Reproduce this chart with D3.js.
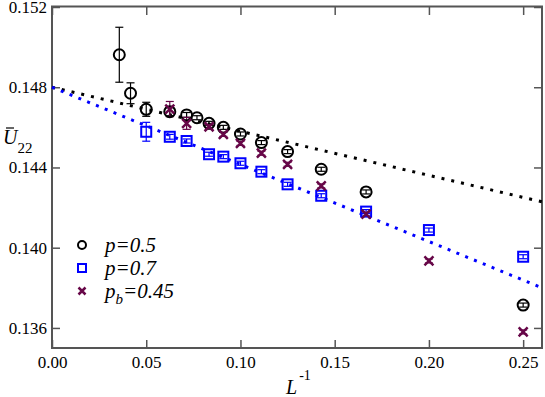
<!DOCTYPE html>
<html>
<head>
<meta charset="utf-8">
<script src="https://cdn.jsdelivr.net/npm/d3@7"></script>
<style>
  body { margin: 0; background: #fff; }
</style>
</head>
<body>
<svg id="chart"></svg>
<script>
// system sizes L, plotted as 1/L
const sizesP05 = [28, 24, 20, 16, 14, 13, 12, 11, 10, 9, 8, 7, 6, 4];
const valuesP05 = [0.14962, 0.1477, 0.1469, 0.14678, 0.14662, 0.14648, 0.1462, 0.146, 0.14567, 0.14524, 0.14479, 0.14391, 0.14278, 0.13714];
const errorsP05 = [0.00137, 0.00052, 0.00035, 0.0002, 0.00012, 0.0001, 0.0001, 0.0001, 0.0001, 0.0001, 0.0001, 0.0001, 0.0001, 0.0001];

const sizesP07 = [20, 16, 14, 12, 11, 10, 9, 8, 7, 6, 5, 4];
const valuesP07 = [0.14578, 0.14553, 0.14532, 0.14466, 0.14454, 0.14421, 0.14379, 0.14316, 0.14259, 0.1418, 0.14088, 0.13955];
const errorsP07 = [0.00047, 0.00012, 0.0001, 0.0001, 0.0001, 0.0001, 0.0001, 0.0001, 0.0001, 0.0001, 0.0001, 0.0001];

const sizesPb = [16, 14, 12, 11, 10, 9, 8, 7, 6, 5, 4];
const valuesPb = [0.14691, 0.1462, 0.14603, 0.14565, 0.1452, 0.14471, 0.14416, 0.14308, 0.14167, 0.13934, 0.1358];
const errorsPb = [0.00038, 0.0003, 0.0001, 0.0001, 0.0001, 0.0001, 0.0001, 0.0001, 0.0001, 0.0001, 0.0001];

// dotted fit lines
const fitX = [0, 0.26];
const fitP05 = [0.148, 0.14229];
const fitP07 = [0.148, 0.138];

const xTicks = [0, 0.05, 0.10, 0.15, 0.20, 0.25];
const yTicks = [0.136, 0.140, 0.144, 0.148, 0.152];

const width = 545;
const height = 397;
const margin = { top: 7, right: 3, bottom: 49, left: 52 };

const black = "#000000";
const blue = "#0000ff";
const maroon = "#670748";
const axisColor = "#555555";
const fontName = "Liberation Serif";

const svg = d3.select("#chart")
  .attr("width", width)
  .attr("height", height);

const x = d3.scaleLinear()
  .domain([0, 0.26])
  .range([margin.left, width - margin.right]);

const y = d3.scaleLinear()
  .domain([0.135, 0.152])
  .range([height - margin.bottom, margin.top]);

const makeSeries = (sizes, values, errors) =>
  sizes.map((L, i) => ({ x: 1 / L, y: values[i], e: errors[i] }));

const seriesP05 = makeSeries(sizesP05, valuesP05, errorsP05);
const seriesP07 = makeSeries(sizesP07, valuesP07, errorsP07);
const seriesPb = makeSeries(sizesPb, valuesPb, errorsPb);

const styleAxis = (g) => {
  g.attr("font-family", fontName).attr("font-size", 17);
  g.select(".domain").remove();
  g.selectAll("line").attr("stroke", axisColor).attr("stroke-width", 1.5);
  g.selectAll("text")
    .attr("fill", "#000")
    .style("font-family", fontName)
    .style("font-size", "17px");
};

// axes, ticks pointing inward on all four sides
svg.append("g")
  .attr("transform", `translate(0,${y.range()[0]})`)
  .call(d3.axisBottom(x).tickValues(xTicks).tickSize(-8).tickPadding(8).tickFormat(d3.format(".2f")))
  .call(styleAxis);

svg.append("g")
  .attr("transform", `translate(0,${y.range()[1]})`)
  .call(d3.axisTop(x).tickValues(xTicks).tickSize(-8).tickFormat(""))
  .call(styleAxis);

svg.append("g")
  .attr("transform", `translate(${x.range()[0]},0)`)
  .call(d3.axisLeft(y).tickValues(yTicks).tickSize(-8).tickPadding(5).tickFormat(d3.format(".3f")))
  .call(styleAxis);

svg.append("g")
  .attr("transform", `translate(${x.range()[1]},0)`)
  .call(d3.axisRight(y).tickValues(yTicks).tickSize(-8).tickFormat(""))
  .call(styleAxis);

// frame
svg.append("rect")
  .attr("x", x.range()[0])
  .attr("y", y.range()[1] - 0.5)
  .attr("width", x.range()[1] - x.range()[0])
  .attr("height", y.range()[0] - y.range()[1] + 0.5)
  .attr("fill", "none")
  .attr("stroke", axisColor)
  .attr("stroke-width", 2);

// fit lines
const plot = svg.append("g");

const fitLine = d3.line()
  .x((d) => x(d[0]))
  .y((d) => y(d[1]));

plot.append("path")
  .datum(fitX.map((v, i) => [v, fitP05[i]]))
  .attr("d", fitLine)
  .attr("fill", "none")
  .attr("stroke", black)
  .attr("stroke-width", 3)
  .attr("stroke-dasharray", "3 7");

plot.append("path")
  .datum(fitX.map((v, i) => [v, fitP07[i]]))
  .attr("d", fitLine)
  .attr("fill", "none")
  .attr("stroke", blue)
  .attr("stroke-width", 3)
  .attr("stroke-dasharray", "3 6.5");

// error bars
const drawErrors = (data, color) => {
  const g = plot.append("g").attr("stroke", color).attr("stroke-width", 1.2);
  data.forEach((d) => {
    const cx = x(d.x);
    const y1 = y(d.y + d.e);
    const y2 = y(d.y - d.e);
    g.append("line").attr("x1", cx).attr("x2", cx).attr("y1", y1).attr("y2", y2);
    g.append("line").attr("x1", cx - 4).attr("x2", cx + 4).attr("y1", y1).attr("y2", y1);
    g.append("line").attr("x1", cx - 4).attr("x2", cx + 4).attr("y1", y2).attr("y2", y2);
  });
};

drawErrors(seriesP05, black);
drawErrors(seriesP07, blue);
drawErrors(seriesPb, maroon);

// markers
const drawCircle = (g, cx, cy, r) =>
  g.append("circle").attr("cx", cx).attr("cy", cy).attr("r", r)
    .attr("fill", "none").attr("stroke", black).attr("stroke-width", 2);

const drawSquare = (g, cx, cy, s) =>
  g.append("rect").attr("x", cx - s / 2).attr("y", cy - s / 2)
    .attr("width", s).attr("height", s)
    .attr("fill", "none").attr("stroke", blue).attr("stroke-width", 2);

const drawCross = (g, cx, cy, s) =>
  g.append("path")
    .attr("d", `M${cx - s},${cy - s}L${cx + s},${cy + s}M${cx - s},${cy + s}L${cx + s},${cy - s}`)
    .attr("stroke", maroon).attr("stroke-width", 2.5);

seriesP05.forEach((d) => drawCircle(plot, x(d.x), y(d.y), 5.5));
seriesP07.forEach((d) => drawSquare(plot, x(d.x), y(d.y), 10));
seriesPb.forEach((d) => drawCross(plot, x(d.x), y(d.y), 4.5));

// legend
const legend = svg.append("g");
const legendX = 82;
const legendY = [245, 268, 291];

drawCircle(legend, legendX, legendY[0], 4);
drawSquare(legend, legendX, legendY[1], 8);
drawCross(legend, legendX, legendY[2], 3.5);

const legendText = (yPos) => legend.append("text")
  .attr("x", 105)
  .attr("y", yPos + 7)
  .style("font-family", fontName)
  .style("font-style", "italic")
  .style("font-size", "21px");

legendText(legendY[0]).text("p=0.5");
legendText(legendY[1]).text("p=0.7");
const pb = legendText(legendY[2]);
pb.append("tspan").text("p");
pb.append("tspan").attr("dy", 6).style("font-size", "15px").text("b");
pb.append("tspan").attr("dy", -6).text("=0.45");

// axis titles
const xTitle = svg.append("text")
  .attr("x", 286)
  .attr("y", 394)
  .style("font-family", fontName)
  .style("font-style", "italic")
  .style("font-size", "20px");
xTitle.append("tspan").text("L");
xTitle.append("tspan").attr("dy", -14).attr("dx", 2).style("font-style", "normal").style("font-size", "14px").text("-1");

const yTitle = svg.append("text")
  .attr("x", 3)
  .attr("y", 144)
  .style("font-family", fontName)
  .style("font-size", "20px");
yTitle.append("tspan").style("font-style", "italic").text("U");
yTitle.append("tspan").attr("dy", 9).style("font-size", "15px").text("22");

svg.append("line")
  .attr("x1", 6).attr("x2", 14)
  .attr("y1", 128).attr("y2", 128)
  .attr("stroke", "#000").attr("stroke-width", 1.2);
</script>
</body>
</html>
